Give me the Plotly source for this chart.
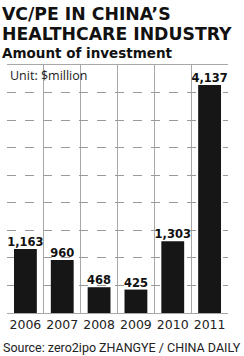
import plotly.graph_objects as go

years = ["2006", "2007", "2008", "2009", "2010", "2011"]
values = [1163, 960, 468, 425, 1303, 4137]
title_lines = ["VC/PE IN CHINA’S", "HEALTHCARE INDUSTRY"]
subtitle = "Amount of investment"
unit = "Unit: $million"
source = "Source: zero2ipo"
credit = "ZHANGYE / CHINA DAILY"

W, H = 244, 356
L, R, T, B = 7, 16, 65, 43
PH = H - T - B

def py(px):
    return (H - B - px) / PH

def pxx(px):
    return (px - L) / (W - L - R)

xs = list(range(len(years)))
HEAVY = "DejaVu Sans, sans-serif"

fig = go.Figure()
fig.add_trace(go.Bar(
    x=xs, y=values, width=0.62,
    marker=dict(color="#161616", line=dict(width=0)),
    hoverinfo="skip",
))
fig.add_trace(go.Scatter(
    x=xs, y=values, mode="text",
    text=[f"{v:,}" for v in values], textposition="top center",
    textfont=dict(family=HEAVY, size=11.5, color="#111", weight="bold"),
    cliponaxis=False, hoverinfo="skip",
))

fig.update_layout(
    width=W, height=H, margin=dict(l=L, r=R, t=T, b=B),
    paper_bgcolor="white", plot_bgcolor="white", showlegend=False,
    xaxis=dict(range=[-0.5, len(years) - 0.5], tickmode="array", tickvals=xs, ticktext=years,
               showgrid=False, zeroline=False, ticks="", fixedrange=True,
               tickfont=dict(family="DejaVu Sans, sans-serif", size=12.5, color="#222"),
               minor=dict(tick0=0.5, dtick=1, showgrid=True, gridcolor="#a8a8a8", gridwidth=1),
               showline=True, linecolor="#a8a8a8", linewidth=1, mirror=True),
    yaxis=dict(range=[0, 4500], dtick=500, showticklabels=False, showgrid=True,
               gridcolor="#9a9a9a", griddash="dash", gridwidth=1, zeroline=False,
               showline=False),
)

common = dict(xref="paper", yref="paper", showarrow=False, borderpad=0,
              xanchor="left", yanchor="top")
tfont = dict(family=HEAVY, size=17.3, color="#111", weight="bold")
ann = []
ann.append(dict(text=title_lines[0], x=pxx(1), y=py(2.5), font=tfont, **common))
ann.append(dict(text=title_lines[1], x=pxx(1), y=py(22.5), font=tfont, **common))
ann.append(dict(text=subtitle, x=pxx(1), y=py(44),
                font=dict(family=HEAVY, size=13.5, color="#111", weight="bold"), **common))
ann.append(dict(text=unit, x=pxx(9), y=py(66),
                font=dict(family="Open Sans, sans-serif", size=12.5, color="#222"), **common))
ann.append(dict(text=source, x=pxx(2), y=py(339),
                font=dict(family="Roboto, sans-serif", size=12.5, color="#222"), **common))
c2 = dict(common); c2["xanchor"] = "right"
ann.append(dict(text=credit, x=pxx(242), y=py(339),
                font=dict(family="Roboto, sans-serif", size=12.5, color="#222"), **c2))
fig.update_layout(annotations=ann)

fig.write_html("out.html")
